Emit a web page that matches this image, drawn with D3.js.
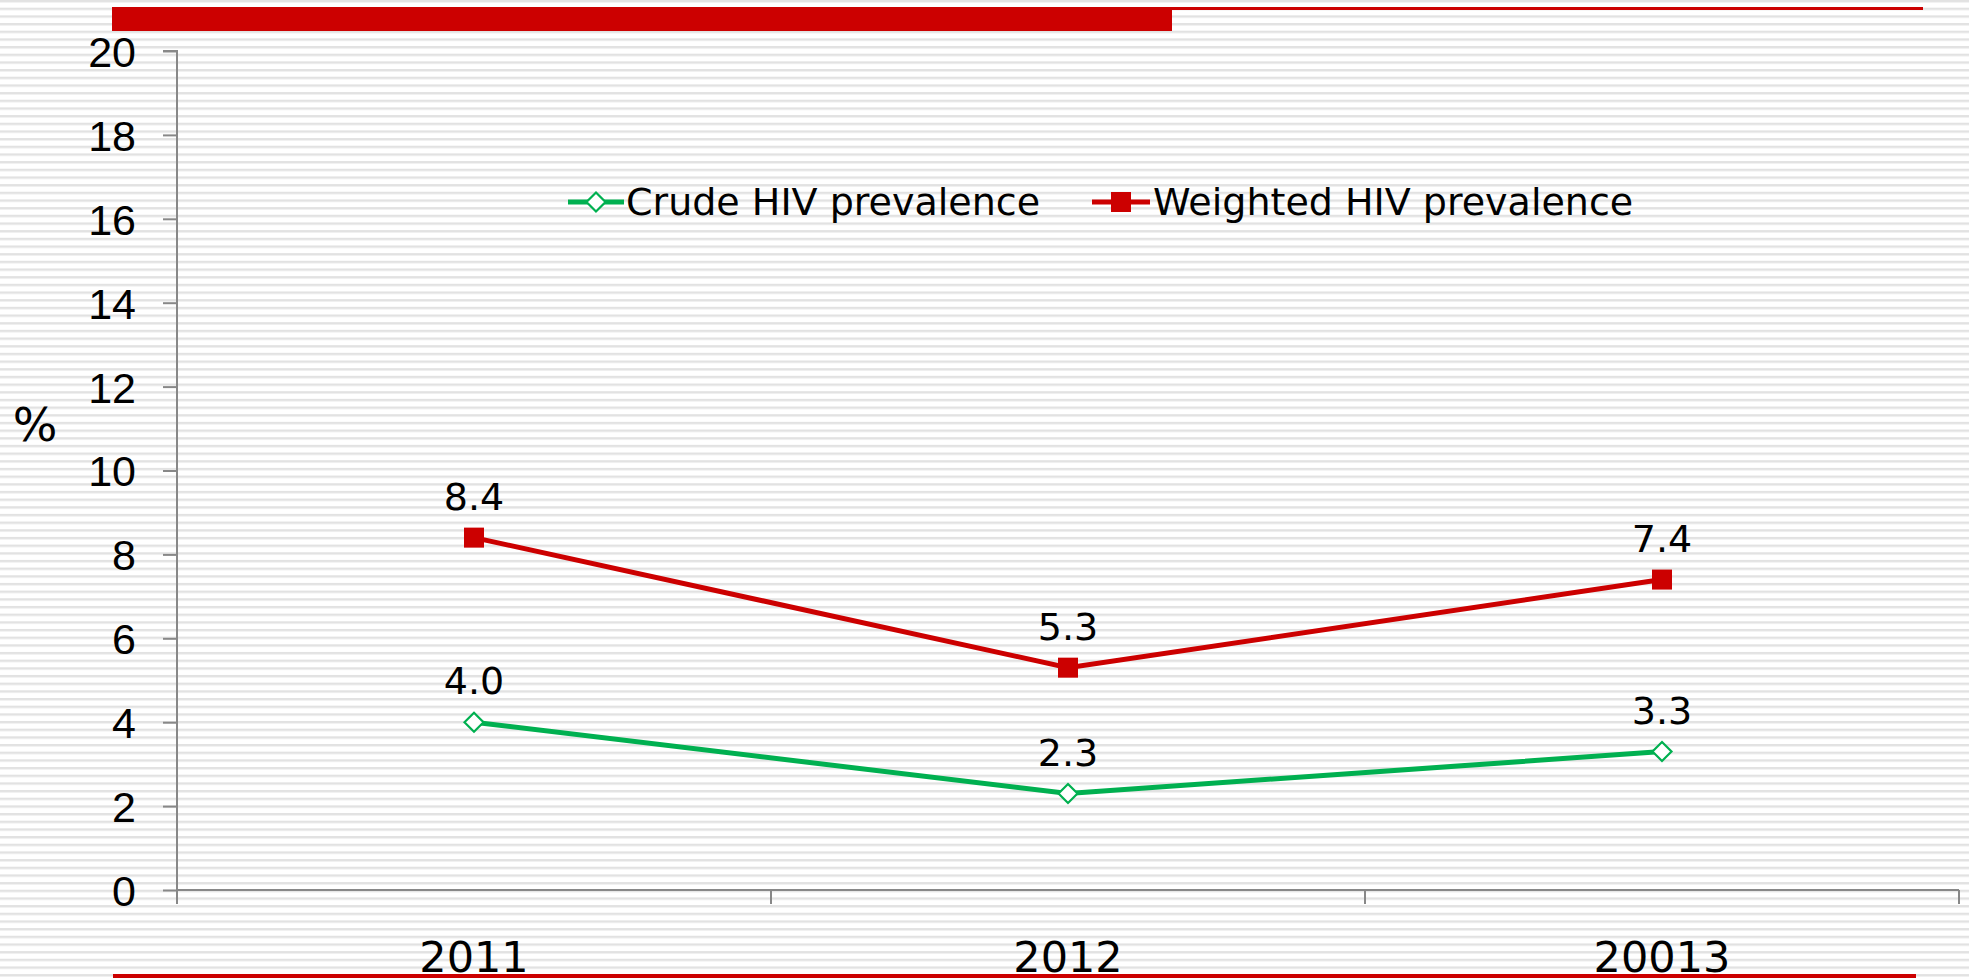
<!DOCTYPE html>
<html><head><meta charset="utf-8">
<script src="https://cdn.jsdelivr.net/npm/d3@7"></script>
<style>html,body{margin:0;padding:0;background:#fff;overflow:hidden}svg{display:block}</style>
</head><body>
<script>
const categories = ["2011", "2012", "20013"];
const crude = [4.0, 2.3, 3.3];
const weighted = [8.4, 5.3, 7.4];
const yTicks = [0, 2, 4, 6, 8, 10, 12, 14, 16, 18, 20];
const seriesNames = ["Crude HIV prevalence", "Weighted HIV prevalence"];

const W = 1969, H = 978;
const svg = d3.select("body").append("svg").attr("width", W).attr("height", H)
  .style("font-family", "'DejaVu Sans', Verdana, sans-serif");

// striped background
const defs = svg.append("defs");
const pat = defs.append("pattern").attr("id", "stripes").attr("patternUnits", "userSpaceOnUse")
  .attr("width", 10).attr("height", 7.67);
pat.append("rect").attr("width", 10).attr("height", 7.67).attr("fill", "#ffffff");
pat.append("rect").attr("y", 0).attr("width", 10).attr("height", 2.4).attr("fill", "#e2e2e2");
svg.append("rect").attr("width", W).attr("height", H).attr("fill", "url(#stripes)");

// decorative red bars
svg.append("rect").attr("x", 112).attr("y", 7).attr("width", 1923 - 112).attr("height", 3).attr("fill", "#cc0000");
svg.append("rect").attr("x", 112).attr("y", 7).attr("width", 1172 - 112).attr("height", 24).attr("fill", "#cc0000");
svg.append("rect").attr("x", 113).attr("y", 974).attr("width", 1916 - 113).attr("height", 4).attr("fill", "#cc0000");

const x = d3.scaleBand().domain(categories).range([177, 1959]).padding(0);
const y = d3.scaleLinear().domain([0, 20]).range([890, 51]);

// y axis
const yAxis = svg.append("g").attr("transform", "translate(177,0)")
  .call(d3.axisLeft(y).tickValues(yTicks).tickSize(14).tickPadding(27).tickFormat(d3.format("d")));
yAxis.select(".domain").attr("stroke", "#888").attr("stroke-width", 2).attr("d", `M-14,${y(20)}H0V${y(0)}`);
yAxis.selectAll(".tick line").attr("stroke", "#888").attr("stroke-width", 2);
yAxis.selectAll(".tick text").attr("font-size", 43).attr("fill", "#000").attr("dy", "0.36em");

// x axis
const xAxis = svg.append("g").attr("transform", "translate(0,890)");
xAxis.append("line").attr("x1", 177).attr("x2", 1959).attr("stroke", "#888").attr("stroke-width", 2);
const bounds = categories.map(c => x(c)).concat([x.range()[1]]);
xAxis.selectAll("line.tk").data(bounds).join("line").attr("class", "tk")
  .attr("x1", d => d).attr("x2", d => d).attr("y1", 0).attr("y2", 14)
  .attr("stroke", "#888").attr("stroke-width", 2);
xAxis.selectAll("text").data(categories).join("text")
  .attr("x", d => x(d) + x.bandwidth() / 2).attr("y", 82)
  .attr("text-anchor", "middle").attr("font-size", 43).attr("fill", "#000").text(d => d);

// y title
svg.append("text").attr("x", 35).attr("y", 441).attr("text-anchor", "middle")
  .attr("font-size", 47).attr("fill", "#000").text("%");

const cx = d => x(d) + x.bandwidth() / 2;
const line = d3.line().x(d => cx(d.c)).y(d => y(d.v));
const green = "#00b050", red = "#cc0000";

const crudeData = categories.map((c, i) => ({ c, v: crude[i] }));
const weightedData = categories.map((c, i) => ({ c, v: weighted[i] }));

svg.append("path").datum(weightedData).attr("d", line).attr("fill", "none").attr("stroke", red).attr("stroke-width", 5);
svg.append("path").datum(crudeData).attr("d", line).attr("fill", "none").attr("stroke", green).attr("stroke-width", 5);

svg.selectAll("rect.wm").data(weightedData).join("rect").attr("class", "wm")
  .attr("x", d => cx(d.c) - 10).attr("y", d => y(d.v) - 10).attr("width", 20).attr("height", 20).attr("fill", red);
const diamond = "M0,-9.5L9.5,0L0,9.5L-9.5,0Z";
svg.selectAll("path.cm").data(crudeData).join("path").attr("class", "cm")
  .attr("transform", d => `translate(${cx(d.c)},${y(d.v)})`).attr("d", diamond)
  .attr("fill", "#fff").attr("stroke", green).attr("stroke-width", 2.2);

const fmt = d3.format(".1f");
svg.selectAll("text.wl").data(weightedData).join("text").attr("class", "wl")
  .attr("x", d => cx(d.c)).attr("y", d => y(d.v) - 28).attr("text-anchor", "middle")
  .attr("font-size", 38).attr("fill", "#000").text(d => fmt(d.v));
svg.selectAll("text.cl").data(crudeData).join("text").attr("class", "cl")
  .attr("x", d => cx(d.c)).attr("y", d => y(d.v) - 28).attr("text-anchor", "middle")
  .attr("font-size", 38).attr("fill", "#000").text(d => fmt(d.v));

// legend
const legend = svg.append("g").attr("transform", "translate(0,202)");
const lg1 = legend.append("g").attr("transform", "translate(568,0)");
lg1.append("line").attr("x1", 0).attr("x2", 56).attr("stroke", green).attr("stroke-width", 5);
lg1.append("path").attr("transform", "translate(28,0)").attr("d", diamond).attr("fill", "#fff").attr("stroke", green).attr("stroke-width", 2.2);
lg1.append("text").attr("x", 58).attr("y", 13).attr("font-size", 38).attr("fill", "#000").text(seriesNames[0]);
const lg2 = legend.append("g").attr("transform", "translate(1092,0)");
lg2.append("line").attr("x1", 0).attr("x2", 58).attr("stroke", red).attr("stroke-width", 5);
lg2.append("rect").attr("x", 19).attr("y", -10).attr("width", 20).attr("height", 20).attr("fill", red);
lg2.append("text").attr("x", 61).attr("y", 13).attr("font-size", 38).attr("fill", "#000").text(seriesNames[1]);
</script>
</body></html>
